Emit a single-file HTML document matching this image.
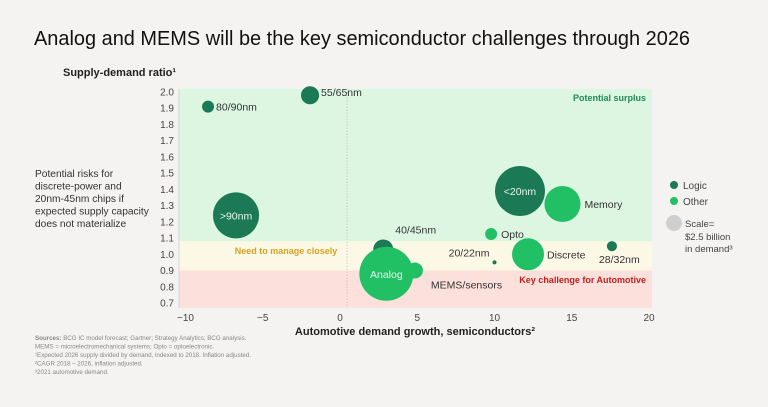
<!DOCTYPE html>
<html><head><meta charset="utf-8"><style>
body{margin:0;background:#f4f3f1;font-family:"Liberation Sans",sans-serif;}
svg text{font-family:"Liberation Sans",sans-serif;}
</style></head><body>
<svg id="c" width="768" height="402" viewBox="0 0 768 402">
<rect width="768" height="402" fill="#f4f3f1"/>
<text x="34" y="45" font-size="20" fill="#111" textLength="656" lengthAdjust="spacingAndGlyphs">Analog and MEMS will be the key semiconductor challenges through 2026</text>
<text x="63" y="76" font-size="11" font-weight="bold" fill="#222">Supply-demand ratio¹</text>
<g font-size="10.2" fill="#333">
<text x="35" y="177">Potential risks for</text>
<text x="35" y="189.5">discrete-power and</text>
<text x="35" y="202">20nm-45nm chips if</text>
<text x="35" y="214.5">expected supply capacity</text>
<text x="35" y="227">does not materialize</text>
</g>
<g id="plot"></g>
<text x="415" y="335" text-anchor="middle" font-size="11" font-weight="bold" fill="#222">Automotive demand growth, semiconductors²</text>
<g font-size="6.2" fill="#888">
<text x="35" y="340"><tspan font-weight="bold">Sources:</tspan> BCG IC model forecast; Gartner; Strategy Analytics; BCG analysis.</text>
<text x="35" y="348.5">MEMS = microelectromechanical systems; Opto = optoelectronic.</text>
<text x="35" y="357">¹Expected 2026 supply divided by demand, indexed to 2018. Inflation adjusted.</text>
<text x="35" y="365.5">²CAGR 2018 – 2026, inflation adjusted.</text>
<text x="35" y="374">³2021 automotive demand.</text>
</g>
<g font-size="10" fill="#444">
<circle cx="674" cy="185" r="4" fill="#1b7a55"/>
<text x="683" y="189">Logic</text>
<circle cx="674" cy="201" r="4" fill="#22c064"/>
<text x="683" y="205">Other</text>
<circle cx="674" cy="223" r="8" fill="#cfcfcf"/>
<text x="685" y="227" font-size="9.5">Scale=</text>
<text x="685" y="240" font-size="9.5">$2.5 billion</text>
<text x="685" y="252" font-size="9.5">in demand³</text>
</g>
</svg>
<script>
const names=["80/90nm","55/65nm",">90nm","40/45nm","Analog","MEMS/sensors","Opto","20/22nm","<20nm","Discrete","Memory","28/32nm"];
const growth=[-8.54,-1.94,-6.73,2.8,3.0,4.85,9.78,10.0,11.65,12.17,14.4,17.6];
const ratio=[1.91,1.98,1.24,1.03,0.88,0.90,1.125,0.95,1.39,1.0,1.31,1.05];
const demand=[1.4,3.2,20.7,3.9,28.5,2.5,1.4,0.16,24.4,10,12.7,1.0];
const kind=["logic","logic","logic","logic","other","other","other","logic","logic","other","other","logic"];
const xTicks=[-10,-5,0,5,10,15,20];
const yTicks=[0.7,0.8,0.9,1.0,1.1,1.2,1.3,1.4,1.5,1.6,1.7,1.8,1.9,2.0];
const zones=[[2.02,1.08,"#dcf6e2"],[1.08,0.9,"#fcf8e6"],[0.9,0.67,"#fbe0dc"]];
const X=v=>340+15.45*v, Y=v=>92+(2-v)*162.3, R=d=>8*Math.sqrt(d/2.5);
const NS="http://www.w3.org/2000/svg", g=document.getElementById('plot');
function el(t,a,txt){const e=document.createElementNS(NS,t);for(const k in a)e.setAttribute(k,a[k]);if(txt!=null)e.textContent=txt;g.appendChild(e);return e;}
const L=179,Rr=652;
zones.forEach(z=>{const e=el('rect',{x:L,y:Y(z[0]),width:Rr-L,height:Y(z[1])-Y(z[0]),fill:z[2]});

});
const ax=el('line',{x1:L,y1:Y(2.02),x2:L,y2:Y(0.67),stroke:"#d6d6d6"});


const zl=el('line',{x1:X(0)+7,y1:Y(2.02),x2:X(0)+7,y2:Y(0.67),stroke:"#bbb","stroke-dasharray":"1,2"});


yTicks.forEach(v=>{const t=el('text',{x:174,y:Y(v)+3.5,"text-anchor":"end","font-size":"10",fill:"#444"},v.toFixed(1));

});
xTicks.forEach(v=>{const t=el('text',{x:X(v),y:321,"text-anchor":"middle","font-size":"10",fill:"#444"},v<0?"\u2212"+(-v):String(v));

});
const zlab=[["Potential surplus",646,101,"#1f8a5a","end"],["Need to manage closely",286,254,"#d8a21f","middle"],["Key challenge for Automotive",646,283,"#c0201f","end"]];
zlab.forEach(z=>{const t=el('text',{x:z[1],y:z[2],"text-anchor":z[4],"font-size":"9","font-weight":"bold",fill:z[3]},z[0]);

});
const inside={">90nm":1,"Analog":1,"<20nm":1};
const off={"80/90nm":[8,4,"start"],"55/65nm":[11,1,"start"],"40/45nm":[12,-16,"start"],"MEMS/sensors":[16,18,"start"],"Opto":[10,4,"start"],"20/22nm":[-5,-6,"end"],"Discrete":[19,4,"start"],"Memory":[22,4,"start"],"28/32nm":[-13,17,"start"]};
names.forEach((n,i)=>{const cx=X(growth[i]),cy=Y(ratio[i]),r=R(demand[i]);
const c=el('circle',{cx,cy,r,fill:kind[i]=="logic"?"#1b7a55":"#22c064"});


let t;
if(inside[n])t=el('text',{x:cx,y:cy+4,"text-anchor":"middle","font-size":"10.5",fill:"#e8f5ee"},n);
else{const o=off[n];t=el('text',{x:cx+o[0],y:cy+o[1],"text-anchor":o[2],"font-size":"10.5",fill:"#333"},n);}

});
</script>
</body></html>
